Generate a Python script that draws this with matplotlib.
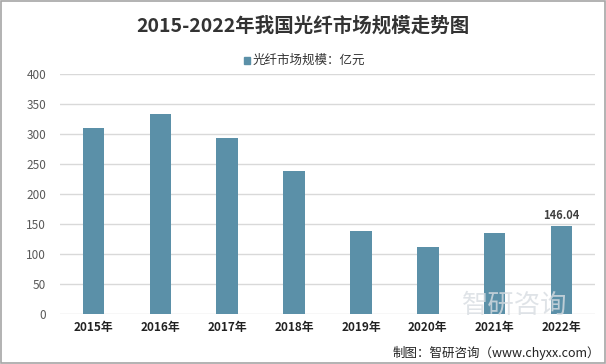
import matplotlib.pyplot as plt
import numpy as np

plt.rcParams['font.family'] = ['Noto Sans CJK SC', 'DejaVu Sans']

years = ['2015年', '2016年', '2017年', '2018年', '2019年', '2020年', '2021年', '2022年']
values = [310, 333, 293, 238, 138, 112, 135, 146.04]

fig = plt.figure(figsize=(6.06, 3.64), dpi=100)
ax = fig.add_axes([60 / 606, 50 / 364, 535 / 606, 240 / 364])

x = np.arange(len(years))
ax.bar(x, values, width=0.32, color='#5b90a8', zorder=3)
ax.text(x[-1], values[-1] + 8, '146.04', ha='center', va='bottom', fontsize=8,
        fontweight='bold', color='#404040')

ax.set_xlim(-0.5, len(years) - 0.5)
ax.set_ylim(0, 400)
ax.set_yticks(range(0, 401, 50))
ax.set_xticks(x)
ax.set_xticklabels(years, fontsize=8.5, fontweight='bold', color='#222222')
ax.tick_params(axis='y', labelsize=8.5, labelcolor='#595959', length=0, pad=10)
ax.tick_params(axis='x', length=0, pad=5)
ax.grid(axis='y', color='#d9d9d9', linewidth=1, zorder=0)
for s in ax.spines.values():
    s.set_visible(False)

fig.text(0.5, 0.928, '2015-2022年我国光纤市场规模走势图', ha='center', va='center',
         fontsize=14, fontweight='bold', color='#333333')
fig.patches.append(plt.Rectangle((0.402, 0.824), 0.011, 0.02, transform=fig.transFigure,
                                 color='#5b90a8'))
fig.text(0.417, 0.834, '光纤市场规模：亿元', ha='left', va='center', fontsize=9, color='#333333')

# watermark
fig.text(0.85, 0.16, '智研咨询', ha='center', va='center', fontsize=19, color='#d8dde2',
         alpha=0.8, zorder=0)
fig.text(0.99, 0.03, '制图：智研咨询（www.chyxx.com）', ha='right', va='center',
         fontsize=9, color='#222222')

fig.patches.append(plt.Rectangle((0.001, 0.002), 0.997, 0.995, transform=fig.transFigure,
                                 fill=False, edgecolor='#a6a6a6', linewidth=1.2))

fig.savefig('out.png', dpi=100)
